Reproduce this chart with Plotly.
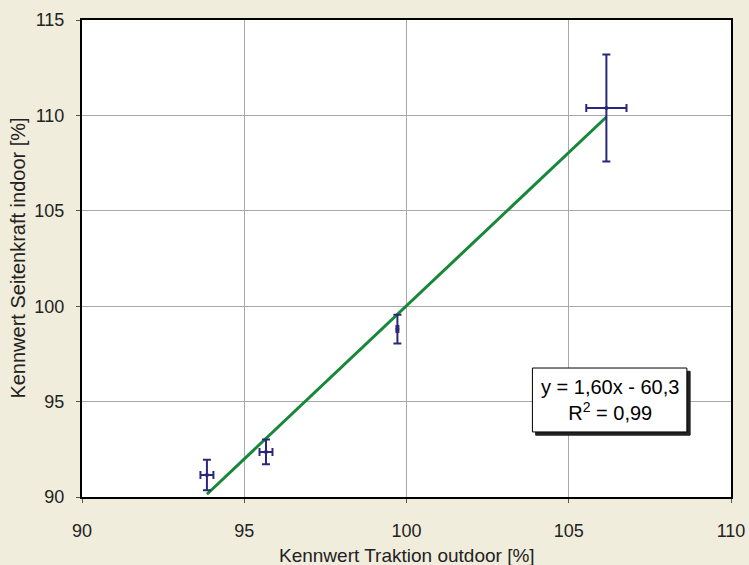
import numpy as np
import plotly.graph_objects as go

x_vals = [93.85, 95.67, 99.72, 106.16]
y_vals = [91.15, 92.36, 98.80, 110.39]
x_err = [0.20, 0.20, 0.03, 0.62]
y_err = [0.80, 0.65, 0.75, 2.80]
x_ticks = [90, 95, 100, 105, 110]
y_ticks = [90, 95, 100, 105, 110, 115]
x_title = "Kennwert Traktion outdoor [%]"
y_title = "Kennwert Seitenkraft indoor [%]"

slope, intercept = np.polyfit(x_vals, y_vals, 1)
xl = np.array([min(x_vals), max(x_vals)])
yl = slope * xl + intercept

navy = "#2a2878"
font_fam = "Liberation Sans, Arial"
fig = go.Figure()
fig.add_trace(go.Scatter(x=xl, y=yl, mode="lines",
                         line=dict(color="#17873a", width=3), hoverinfo="skip"))
fig.add_trace(go.Scatter(
    x=x_vals, y=y_vals, mode="markers",
    marker=dict(color=navy, size=4),
    error_x=dict(type="data", array=x_err, color=navy, thickness=2, width=4),
    error_y=dict(type="data", array=y_err, color=navy, thickness=2, width=4),
))

# label box (shadow + box)
bx0, bx1, by0, by1 = 103.88, 108.64, 93.41, 96.76
fig.add_shape(type="rect", xref="x", yref="y", x0=bx0 + 0.1, x1=bx1 + 0.1,
              y0=by0 - 0.17, y1=by1 - 0.17, fillcolor="#222222",
              line=dict(color="#222222", width=1), layer="above")
fig.add_shape(type="rect", xref="x", yref="y", x0=bx0, x1=bx1, y0=by0, y1=by1,
              fillcolor="white", line=dict(color="black", width=1), layer="above")
fig.add_annotation(x=(bx0 + bx1) / 2, y=(by0 + by1) / 2, xref="x", yref="y",
                   showarrow=False, align="center",
                   text="y = 1,60x - 60,3<br>R<sup>2</sup> = 0,99",
                   font=dict(family=font_fam, size=20, color="black"))

# axis titles
fig.add_annotation(x=0.5, y=-0.1216, xref="paper", yref="paper", showarrow=False,
                   xanchor="center", yanchor="middle", text=x_title,
                   font=dict(family=font_fam, size=19, color="#222222"))
fig.add_annotation(x=-0.1, y=0.5, xref="paper", yref="paper", showarrow=False,
                   xanchor="center", yanchor="middle", textangle=-90, text=y_title,
                   font=dict(family=font_fam, size=20, color="#222222"))

axis_common = dict(showgrid=True, gridcolor="#a8a8a8", gridwidth=1,
                   showline=True, linecolor="black", linewidth=2, mirror=True,
                   ticks="outside", ticklen=4, tickcolor="#555555",
                   tickfont=dict(family=font_fam, size=18, color="#222222"),
                   zeroline=False, automargin=False)
fig.update_xaxes(**axis_common, range=[90, 110], tickvals=x_ticks,
                 ticklabelstandoff=12)
fig.update_yaxes(**axis_common, range=[90, 115], tickvals=y_ticks,
                 ticklabelstandoff=8)
fig.update_layout(width=749, height=565, showlegend=False,
                  paper_bgcolor="#f1eddd", plot_bgcolor="white",
                  margin=dict(l=82, r=18, t=20, b=68))
fig.write_html("out.html", config={"displayModeBar": False},
               post_script="document.body.style.margin='0';")
